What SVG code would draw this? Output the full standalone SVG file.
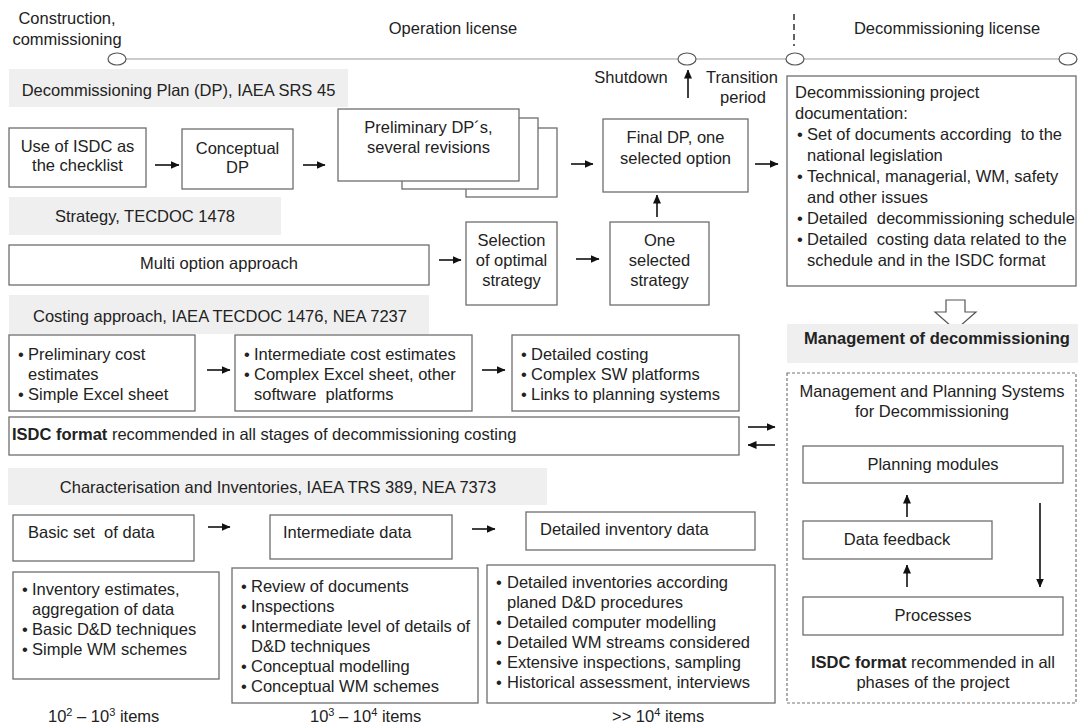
<svg xmlns="http://www.w3.org/2000/svg" width="1078" height="727" viewBox="0 0 1078 727">
<style>
.t{font-family:"Liberation Sans",Arial,Helvetica,sans-serif;font-size:16.5px;fill:#222}
.c{text-anchor:middle}
.b{font-weight:bold}
.box{fill:#fff;stroke:#6e6e6e;stroke-width:1.3}
.band{fill:#efefef}
.arr{stroke:#111;stroke-width:1.6;fill:none;marker-end:url(#ah)}
.tl{stroke:#999;stroke-width:1.2;fill:none}
.ms{fill:#fff;stroke:#555;stroke-width:1.2}
.sup{font-size:11px}
</style>
<defs>
<marker id="ah" markerWidth="9" markerHeight="8" refX="8.5" refY="4" orient="auto" markerUnits="userSpaceOnUse"><path d="M0,0 L9,4 L0,8 z" fill="#111"/></marker>
</defs>
<rect width="1078" height="727" fill="#fff"/>

<g id="timeline">
<line class="tl" x1="117" y1="59" x2="1068" y2="59"/>
<ellipse class="ms" cx="117" cy="59" rx="9" ry="6"/>
<ellipse class="ms" cx="687" cy="59" rx="9" ry="6"/>
<ellipse class="ms" cx="795" cy="59" rx="9" ry="6"/>
<ellipse class="ms" cx="1068" cy="59" rx="9" ry="6"/>
<line x1="794" y1="14" x2="794" y2="46" stroke="#222" stroke-width="1.4" stroke-dasharray="6,4"/>
<text class="t c" x="67" y="24">Construction,</text>
<text class="t c" x="67" y="45">commissioning</text>
<text class="t c" x="453" y="34">Operation license</text>
<text class="t c" x="947" y="34">Decommissioning license</text>
<text class="t c" x="631" y="83">Shutdown</text>
<text class="t c" x="742" y="83">Transition</text>
<text class="t c" x="743" y="103">period</text>
</g>

<g id="band-dp">
<rect class="band" x="9" y="69" width="339" height="38"/>
<text class="t c" x="178.5" y="96">Decommissioning Plan (DP), IAEA SRS 45</text>
</g>
<g id="n-isdc-checklist">
<rect class="box" x="9" y="128" width="137" height="59"/>
<text class="t c" x="77.5" y="152">Use of ISDC as</text>
<text class="t c" x="77.5" y="171">the checklist</text>
</g>
<g id="n-conceptual">
<rect class="box" x="182" y="129" width="111" height="60"/>
<text class="t c" x="237.5" y="154">Conceptual</text>
<text class="t c" x="237.5" y="173">DP</text>
</g>
<g id="n-preliminary">
<rect class="box" x="466" y="128" width="91" height="69"/>
<rect class="box" x="402" y="118" width="136" height="71"/>
<rect class="box" x="338" y="109" width="181" height="72"/>
<text class="t c" x="428.5" y="133">Preliminary DP´s,</text>
<text class="t c" x="428.5" y="153">several revisions</text>
</g>
<g id="n-final">
<rect class="box" x="603" y="119" width="145" height="73"/>
<text class="t c" x="675.5" y="143">Final DP, one</text>
<text class="t c" x="675.5" y="164">selected option</text>
</g>
<g id="n-project-doc">
<rect class="box" x="787" y="76" width="289" height="210"/>
<text class="t" x="795" y="98">Decommissioning project</text>
<text class="t" x="795" y="119">documentation:</text>
<text class="t" x="797" y="140">•</text><text class="t" x="807" y="140" xml:space="preserve">Set of documents according  to the</text>
<text class="t" x="807" y="161">national legislation</text>
<text class="t" x="797" y="182">•</text><text class="t" x="807" y="182">Technical, managerial, WM, safety</text>
<text class="t" x="807" y="203">and other issues</text>
<text class="t" x="797" y="224">•</text><text class="t" x="807" y="224" xml:space="preserve">Detailed  decommissioning schedule</text>
<text class="t" x="797" y="245">•</text><text class="t" x="807" y="245" xml:space="preserve">Detailed  costing data related to the</text>
<text class="t" x="807" y="266">schedule and in the ISDC format</text>
</g>

<g id="band-strategy">
<rect class="band" x="9" y="197" width="272" height="38"/>
<text class="t c" x="145" y="222">Strategy, TECDOC 1478</text>
</g>
<g id="n-multi">
<rect class="box" x="9" y="245" width="420" height="40"/>
<text class="t c" x="219" y="269">Multi option approach</text>
</g>
<g id="n-selection">
<rect class="box" x="466" y="222" width="91" height="83"/>
<text class="t c" x="511.5" y="246">Selection</text>
<text class="t c" x="511.5" y="266">of optimal</text>
<text class="t c" x="511.5" y="286">strategy</text>
</g>
<g id="n-one-selected">
<rect class="box" x="610" y="222" width="99" height="83"/>
<text class="t c" x="659.5" y="246">One</text>
<text class="t c" x="659.5" y="266">selected</text>
<text class="t c" x="659.5" y="286">strategy</text>
</g>

<g id="n-down-arrow">
<polygon points="946,300 965,300 965,312 976,312 955.5,330 935,312 946,312" fill="#fff" stroke="#555" stroke-width="1.2"/>
</g>
<g id="band-management">
<rect class="band" x="787" y="324" width="291" height="39"/>
<text class="t c b" x="937" y="344">Management of decommissioning</text>
</g>

<g id="band-costing">
<rect class="band" x="9" y="295" width="420" height="39"/>
<text class="t c" x="220" y="322">Costing approach, IAEA TECDOC 1476, NEA 7237</text>
</g>
<g id="n-cost-prelim">
<rect class="box" x="9" y="335" width="186" height="76"/>
<text class="t" x="18" y="360">•</text><text class="t" x="28" y="360">Preliminary cost</text>
<text class="t" x="28" y="380">estimates</text>
<text class="t" x="18" y="400">•</text><text class="t" x="28" y="400">Simple Excel sheet</text>
</g>
<g id="n-cost-intermediate">
<rect class="box" x="235" y="335" width="237" height="76"/>
<text class="t" x="244" y="360">•</text><text class="t" x="254" y="360">Intermediate cost estimates</text>
<text class="t" x="244" y="380">•</text><text class="t" x="254" y="380">Complex Excel sheet, other</text>
<text class="t" x="254" y="400" xml:space="preserve">software  platforms</text>
</g>
<g id="n-cost-detailed">
<rect class="box" x="512" y="335" width="227" height="76"/>
<text class="t" x="521" y="360">•</text><text class="t" x="531" y="360">Detailed costing</text>
<text class="t" x="521" y="380">•</text><text class="t" x="531" y="380">Complex SW platforms</text>
<text class="t" x="521" y="400">•</text><text class="t" x="531" y="400">Links to planning systems</text>
</g>
<g id="n-isdc-costing">
<rect class="box" x="9" y="417" width="730" height="38"/>
<text class="t" x="12" y="440"><tspan class="b">ISDC format</tspan> recommended in all stages of decommissioning costing</text>
</g>

<g id="n-mps">
<rect x="787" y="373" width="289" height="330" fill="#fff" stroke="#777" stroke-width="1.2" stroke-dasharray="3,2"/>
<text class="t c" x="932" y="397">Management and Planning Systems</text>
<text class="t c" x="932" y="417">for Decommissioning</text>
<text class="t c" x="933" y="668"><tspan class="b">ISDC format</tspan> recommended in all</text>
<text class="t c" x="933" y="688">phases of the project</text>
</g>
<g id="n-planning">
<rect class="box" x="803" y="446" width="260" height="37"/>
<text class="t c" x="933" y="470">Planning modules</text>
</g>
<g id="n-feedback">
<rect class="box" x="803" y="521" width="189" height="38"/>
<text class="t c" x="897" y="545">Data feedback</text>
</g>
<g id="n-processes">
<rect class="box" x="803" y="597" width="260" height="38"/>
<text class="t c" x="933" y="621">Processes</text>
</g>

<g id="band-char">
<rect class="band" x="8" y="468" width="539" height="37"/>
<text class="t c" x="278" y="493">Characterisation and Inventories, IAEA TRS 389, NEA 7373</text>
</g>
<g id="n-basic">
<rect class="box" x="13" y="515" width="181" height="46"/>
<text class="t" x="28" y="538" xml:space="preserve">Basic set  of data</text>
</g>
<g id="n-intermediate">
<rect class="box" x="270" y="515" width="182" height="44"/>
<text class="t" x="283" y="538">Intermediate data</text>
</g>
<g id="n-detailed">
<rect class="box" x="526" y="512" width="229" height="38"/>
<text class="t" x="540" y="535">Detailed inventory data</text>
</g>
<g id="n-basic-list">
<rect class="box" x="13" y="572" width="206" height="107"/>
<text class="t" x="22" y="595">•</text><text class="t" x="32" y="595">Inventory estimates,</text>
<text class="t" x="32" y="615">aggregation of data</text>
<text class="t" x="22" y="635">•</text><text class="t" x="32" y="635">Basic D&amp;D techniques</text>
<text class="t" x="22" y="655">•</text><text class="t" x="32" y="655">Simple WM schemes</text>
</g>
<g id="n-intermediate-list">
<rect class="box" x="232" y="568" width="246" height="135"/>
<text class="t" x="241" y="592">•</text><text class="t" x="251" y="592">Review of documents</text>
<text class="t" x="241" y="612">•</text><text class="t" x="251" y="612">Inspections</text>
<text class="t" x="241" y="632">•</text><text class="t" x="251" y="632">Intermediate level of details of</text>
<text class="t" x="251" y="652">D&amp;D techniques</text>
<text class="t" x="241" y="672">•</text><text class="t" x="251" y="672">Conceptual modelling</text>
<text class="t" x="241" y="692">•</text><text class="t" x="251" y="692">Conceptual WM schemes</text>
</g>
<g id="n-detailed-list">
<rect class="box" x="487" y="565" width="288" height="138"/>
<text class="t" x="496" y="588">•</text><text class="t" x="507" y="588">Detailed inventories according</text>
<text class="t" x="507" y="608">planed D&amp;D procedures</text>
<text class="t" x="496" y="628">•</text><text class="t" x="507" y="628">Detailed computer modelling</text>
<text class="t" x="496" y="648">•</text><text class="t" x="507" y="648">Detailed WM streams considered</text>
<text class="t" x="496" y="668">•</text><text class="t" x="507" y="668">Extensive inspections, sampling</text>
<text class="t" x="496" y="688">•</text><text class="t" x="507" y="688">Historical assessment, interviews</text>
</g>
<g id="labels-items">
<text class="t" x="48" y="722">10<tspan class="sup" dy="-6">2</tspan><tspan dy="6"> – 10</tspan><tspan class="sup" dy="-6">3</tspan><tspan dy="6"> items</tspan></text>
<text class="t" x="310" y="722">10<tspan class="sup" dy="-6">3</tspan><tspan dy="6"> – 10</tspan><tspan class="sup" dy="-6">4</tspan><tspan dy="6"> items</tspan></text>
<text class="t" x="612" y="722">&gt;&gt; 10<tspan class="sup" dy="-6">4</tspan><tspan dy="6"> items</tspan></text>
</g>

<g id="connectors">
<line class="arr" x1="155" y1="165" x2="179" y2="165"/>
<line class="arr" x1="303" y1="165" x2="325" y2="165"/>
<line class="arr" x1="571" y1="164" x2="593" y2="164"/>
<line class="arr" x1="755" y1="164" x2="778" y2="164"/>
<line class="arr" x1="439" y1="260" x2="461" y2="260"/>
<line class="arr" x1="576" y1="259" x2="599" y2="259"/>
<line class="arr" x1="657" y1="217" x2="657" y2="195"/>
<line class="arr" x1="688" y1="98" x2="688" y2="70"/>
<line class="arr" x1="207" y1="370" x2="230" y2="370"/>
<line class="arr" x1="482" y1="370" x2="505" y2="370"/>
<line class="arr" x1="748" y1="427" x2="775" y2="427"/>
<line class="arr" x1="775" y1="445" x2="748" y2="445"/>
<line class="arr" x1="208" y1="527" x2="230" y2="527"/>
<line class="arr" x1="472" y1="529" x2="495" y2="529"/>
<line class="arr" x1="907" y1="517" x2="907" y2="495"/>
<line class="arr" x1="907" y1="587" x2="907" y2="565"/>
<line class="arr" x1="1040" y1="503" x2="1040" y2="587"/>
</g>
</svg>
